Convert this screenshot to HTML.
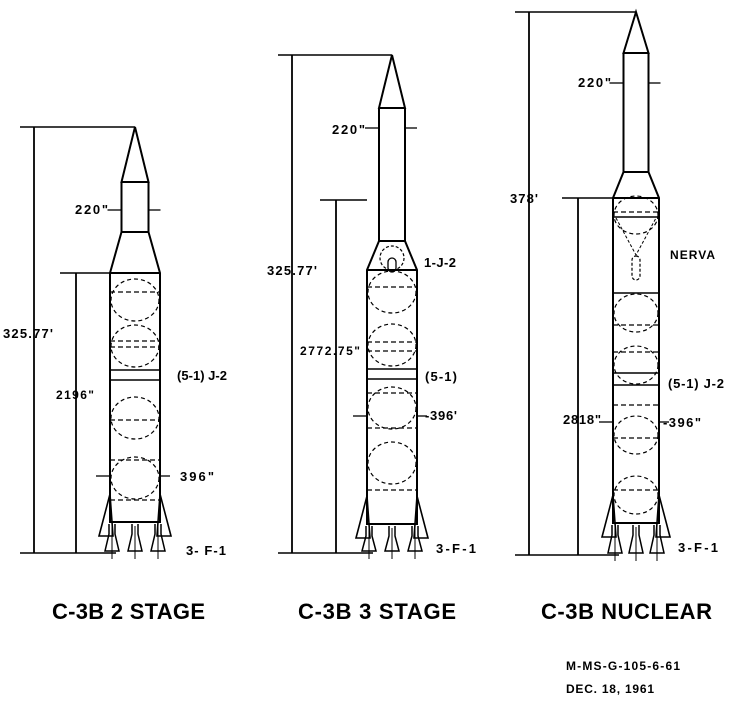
<!DOCTYPE html>
<html><head><meta charset="utf-8"><style>
html,body{margin:0;padding:0;background:#fff;width:751px;height:705px;overflow:hidden}
svg{display:block}
text{font-family:"Liberation Sans",sans-serif;font-weight:bold;fill:#000}
</style></head><body>
<svg id="s" width="751" height="705" viewBox="0 0 751 705" xmlns="http://www.w3.org/2000/svg">
<g id="g" fill="none" stroke="#000" stroke-width="2"></g>
<g font-size="13">
<text x="3" y="338" textLength="50">325.77'</text>
<text x="56" y="399" font-size="12" textLength="38">2196"</text>
<text x="75" y="214" textLength="33">220"</text>
<text x="177" y="380" textLength="50">(5-1) J-2</text>
<text x="180" y="481" textLength="34">396"</text>
<text x="186" y="555" textLength="40">3- F-1</text>

<text x="267" y="275" textLength="50">325.77'</text>
<text x="300" y="355" font-size="12" textLength="60">2772.75"</text>
<text x="332" y="134" textLength="33">220"</text>
<text x="424" y="267" textLength="32">1-J-2</text>
<text x="425" y="381" textLength="32">(5-1)</text>
<text x="425" y="420" textLength="32">-396'</text>
<text x="436" y="553" textLength="40">3-F-1</text>

<text x="510" y="203" textLength="28">378'</text>
<text x="670" y="259" font-size="12" textLength="45">NERVA</text>
<text x="668" y="388" textLength="56">(5-1) J-2</text>
<text x="563" y="424" textLength="38">2818"</text>
<text x="663" y="427" textLength="38">-396"</text>
<text x="578" y="87" textLength="33">220"</text>
<text x="678" y="552" textLength="40">3-F-1</text>
</g>
<g font-size="22" style="font-weight:normal">
<text x="52" y="619" textLength="153">C-3B 2 STAGE</text>
<text x="298" y="619" textLength="158">C-3B  3 STAGE</text>
<text x="541" y="619" textLength="171">C-3B NUCLEAR</text>
</g>
<text x="566" y="670" font-size="12" textLength="114">M-MS-G-105-6-61</text>
<text x="566" y="693" font-size="12" textLength="88">DEC. 18, 1961</text>
</svg>
<script>
var g=document.getElementById('g'),NS='http://www.w3.org/2000/svg';
function el(t,a){var e=document.createElementNS(NS,t);for(var k in a)e.setAttribute(k,a[k]);g.appendChild(e);return e;}
function L(x1,y1,x2,y2,w,d){var a={x1:x1,y1:y1,x2:x2,y2:y2};if(w)a['stroke-width']=w;if(d)a['stroke-dasharray']=d;return el('line',a);}
function P(d,w,da){var a={d:d};if(w)a['stroke-width']=w;if(da)a['stroke-dasharray']=da;return el('path',a);}
function rocket(o){
 var cx=o.cx,cw=o.cw/2,bw=o.bw/2;
 P('M'+(cx-cw)+' '+o.noseY+' L'+cx+' '+o.tip+' L'+(cx+cw)+' '+o.noseY+' Z');
 P('M'+(cx-cw)+' '+o.noseY+' V'+o.cylBot+' L'+(cx-bw)+' '+o.flare+' V'+o.bot+' H'+(cx+bw)+' V'+o.flare+' L'+(cx+cw)+' '+o.cylBot+' V'+o.noseY);
 L(cx-cw,o.cylBot,cx+cw,o.cylBot);
 L(cx-bw,o.flare,cx+bw,o.flare);
 o.circ.forEach(function(y){el('ellipse',{cx:cx,cy:y,rx:bw-1,ry:bw-4,'stroke-width':1.2,'stroke-dasharray':'4 3'});});
 o.dash.forEach(function(y){L(cx-bw,y,cx+bw,y,1.3,'5 3');});
 o.solid.forEach(function(y){L(cx-bw,y,cx+bw,y,1.6);});
 var fy=o.bot-28;
 P('M'+(cx-bw)+' '+fy+' L'+(cx-bw-11)+' '+(o.bot+14)+' H'+(cx-bw+3)+' Z',1.6);
 P('M'+(cx+bw)+' '+fy+' L'+(cx+bw+11)+' '+(o.bot+14)+' H'+(cx+bw-3)+' Z',1.6);
 [-bw+2,0,bw-2].forEach(function(dx){var x=cx+dx;
  P('M'+(x-3)+' '+(o.bot+2)+' V'+(o.bot+12)+' L'+(x-7)+' '+(o.g-2)+' H'+(x+7)+' L'+(x+3)+' '+(o.bot+12)+' V'+(o.bot+2),1.5);
  L(x,o.bot+4,x,o.g+6,1);});
 L(o.d1,o.tip,o.d1,o.g,1.8); L(o.d1-14,o.tip,cx,o.tip,1.5);
 L(o.d2,o.t2,o.d2,o.g,1.8); L(o.d2-16,o.t2,cx-bw,o.t2,1.5);
 L(o.d1-14,o.g,cx-bw+6,o.g,1.5);
 L(cx-cw-14,o.ay,cx-cw,o.ay,1.3);L(cx+cw,o.ay,cx+cw+12,o.ay,1.3);
 L(cx-bw-14,o.by,cx-bw,o.by,1.3);L(cx+bw,o.by,cx+bw+10,o.by,1.3);
}
rocket({cx:135,tip:127,noseY:182,cw:27,cylBot:232,flare:273,bw:50,bot:522,g:553,d1:34,d2:76,t2:273,
 circ:[300,346,418,478],dash:[292,341,347,420,460,500],solid:[370,380],ay:210,by:476});
rocket({cx:392,tip:55,noseY:108,cw:26,cylBot:241,flare:270,bw:50,bot:524,g:553,d1:292,d2:336,t2:200,
 circ:[292,345,408,463],dash:[287,342,351,393,428,490],solid:[369,379],ay:128,by:416});
rocket({cx:636,tip:12,noseY:53,cw:25,cylBot:172,flare:198,bw:46,bot:523,g:555,d1:529,d2:578,t2:198,
 circ:[215,313,365,435,495],dash:[212,325,352,405,438,490],solid:[217,293,373,385],ay:83,by:422});
P('M616 218 L636 255 L656 218',1,'3 2');
el('rect',{x:632,y:256,width:8,height:24,rx:4,'stroke-width':1.2,'stroke-dasharray':'3 2'});
el('circle',{cx:392,cy:258,r:12,'stroke-width':1.2,'stroke-dasharray':'3 2'});
el('rect',{x:388,y:258,width:8,height:14,rx:4,'stroke-width':1.3});
</script>
</body></html>
